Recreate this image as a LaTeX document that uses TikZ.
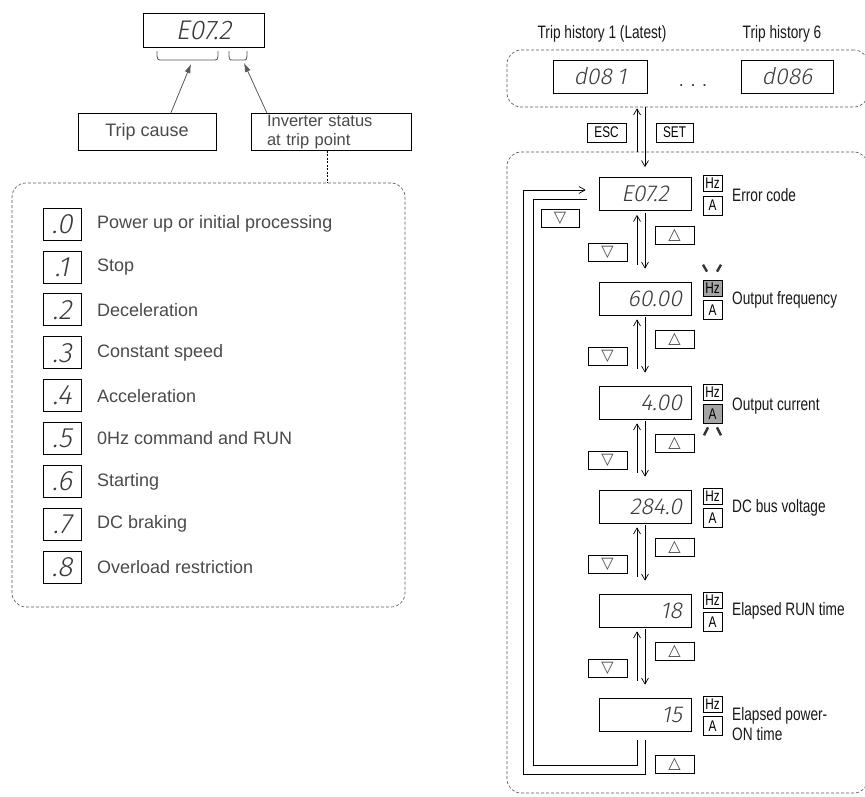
\documentclass[tikz,border=0pt]{standalone}
\usepackage{fontspec}
\setmainfont{Liberation Sans}
\newfontfamily\rfont[FakeStretch=0.76]{Liberation Sans}
\newfontfamily\segfont[FakeSlant=0.2]{Fira Sans Light}
\newfontfamily\symfont{DejaVu Sans}
\usetikzlibrary{arrows.meta,calc}
\definecolor{txtgray}{HTML}{4A4A4A}
\definecolor{seggray}{HTML}{3A3A3A}
\definecolor{litgray}{HTML}{A4A4A4}
\definecolor{dashgray}{HTML}{5A5A5A}
\begin{document}
\begin{tikzpicture}[x=1pt,y=-1pt,
  box/.style={draw=black,line width=0.7pt,inner sep=0pt},
  ltext/.style={font=\fontsize{18}{20}\selectfont,text=txtgray,inner sep=0pt},
  segbig/.style={font=\segfont\fontsize{27}{27}\selectfont,text=seggray},
  seglegend/.style={font=\segfont\fontsize{28}{28}\selectfont,text=seggray},
  segmid/.style={font=\segfont\fontsize{23}{23}\selectfont,text=seggray},
  dashbox/.style={draw=dashgray,dash pattern=on 3pt off 2pt,line width=0.65pt,rounded corners=14pt,inner sep=0pt},
  garrow/.style={draw=gray!70!black,line width=0.8pt,-{Latex[length=9pt,width=6pt]}},
  rline/.style={draw=black,line width=0.7pt},
  rarr/.style={rline,-{Straight Barb[length=6pt,width=7pt]}},
  disp/.style={box,minimum width=92pt,minimum height=33pt,text width=74pt,align=right,font=\segfont\fontsize{23}{23}\selectfont,text=seggray},
  unit/.style={box,minimum width=19pt,font=\rfont\fontsize{15.5}{15.5}\selectfont},
  key/.style={box,minimum width=39pt,minimum height=18pt,font=\symfont\fontsize{16}{16}\selectfont,text=black!70},
  rsmall/.style={box,font=\rfont\fontsize{15.5}{15.5}\selectfont},
  rlabel/.style={font=\rfont\fontsize{18}{20}\selectfont,anchor=west,align=left,text=black!90,inner sep=0pt},
  rtitle/.style={font=\rfont\fontsize{18}{20}\selectfont,text=black!90,inner sep=0pt},
  blink/.style={draw=black!80,line width=2.4pt}
]
\useasboundingbox[fill=white] (0,0) rectangle (865,796);

% ---------------- left part ----------------
\node[box,minimum width=121pt,minimum height=34pt,segbig] (e0) at (203.5,30) {E07.2};
\draw[gray!70!black,line width=0.8pt] (157,51) .. controls (157,60) .. (162,60) -- (213,60) .. controls (218,60) .. (218,51);
\draw[gray!70!black,line width=0.8pt] (229,51) .. controls (229,60) .. (233,60) -- (243,60) .. controls (247,60) .. (247,51);
\coordinate (bl) at (191,64);
\coordinate (br) at (244,63);

\node[box,minimum width=138pt,minimum height=37pt,ltext] (tc) at (147,131.5) {Trip cause};
\node[box,minimum width=160pt,minimum height=37pt,ltext,font=\fontsize{16.5}{18.5}\selectfont,align=left,text width=128pt] (inv) at (331,132) {Inverter status\\at trip point};
\draw[garrow] ([xshift=24pt]tc.north) -- (bl);
\draw[garrow] ([xshift=-64pt]inv.north) -- (br);

\node[dashbox,minimum width=393pt,minimum height=424pt] (lb) at (208.5,395) {};
\coordinate (dx) at (327,0);
\draw[black,line width=0.9pt,dash pattern=on 2pt off 1.5pt] (dx |- inv.south) -- (dx |- lb.north);

\foreach \k/\d/\t in {0/.0/Power up or initial processing,1/.1/Stop,2/.2/Deceleration,3/.3/Constant speed,4/.4/Acceleration,5/.5/0Hz command and RUN,6/.6/Starting,7/.7/DC braking,8/.8/Overload restriction}{
  \node[box,minimum width=38pt,minimum height=32pt,seglegend] (b\k) at (62,{224+42.9*\k}) {\d};
  \node[ltext,anchor=west] (t\k) at (97,{224+42.9*\k}) {\t};
}

% ---------------- right part ----------------
\node[rtitle] (lab1) at (602,34) {Trip history 1 (Latest)};
\node[rtitle] (lab6) at (782,34) {Trip history 6};
\node[dashbox,minimum width=361pt,minimum height=57pt] (th) at (687.5,78.5) {};
\node[box,minimum width=94pt,minimum height=33pt,segmid] (h1) at (600,76.5) {d08\kern5pt 1};
\node[box,minimum width=92pt,minimum height=33pt,segmid] (h6) at (787,76.5) {d086};
\node[font=\fontsize{18}{18}\selectfont,text=black!80] (dots) at (693,86) {. . .};

\node[rsmall,minimum width=39pt,minimum height=19pt] (esc) at (606.5,132.5) {ESC};
\node[rsmall,minimum width=37pt,minimum height=19pt] (set) at (674.5,132.5) {SET};

\node[dashbox,minimum width=361pt,minimum height=641pt] (bb) at (687.5,472.5) {};

\node[disp,align=center] (d1) at (645,194) {E07.2};
\node[disp] (d2) at (645,298.5) {60.00};
\node[disp] (d3) at (645,402.5) {4.00};
\node[disp] (d4) at (645,506.5) {284.0};
\node[disp] (d5) at (645,610.5) {18};
\node[disp] (d6) at (645,714.5) {15};

\foreach \i/\fh/\fa in {1/white/white,2/litgray/white,3/white/litgray,4/white/white,5/white/white,6/white/white}{
  \node[unit,minimum height=16pt,fill=\fh] (hz\i) at ($(d\i.center)+(67.5,-10.5)$) {Hz};
  \node[unit,minimum height=19pt,fill=\fa] (a\i) at ($(d\i.center)+(67.5,11.5)$) {A};
}

\node[rlabel] (l1) at ($(d1.center)+(87,1)$) {Error code};
\node[rlabel] (l2) at ($(d2.center)+(87,1.5)$) {Output frequency};
\node[rlabel] (l3) at ($(d3.center)+(87,3.5)$) {Output current};
\node[rlabel] (l4) at ($(d4.center)+(87,1)$) {DC bus voltage};
\node[rlabel] (l5) at ($(d5.center)+(87,0)$) {Elapsed RUN time};
\node[rlabel] (l6) at ($(d6.center)+(87,10)$) {Elapsed power-\\ON time};

% blink marks
\draw[blink] ($(hz2.north)+(-9.5,-15)$) -- ++(4,7);
\draw[blink] ($(hz2.north)+(8.5,-15)$) -- ++(-4,7);
\draw[blink] ($(a3.south)+(-4.5,3.5)$) -- ++(-4,8);
\draw[blink] ($(a3.south)+(4.5,3.5)$) -- ++(4,8);

% ESC / SET arrows
\coordinate (xu) at (637,0);
\coordinate (xd) at (645,0);
\draw[rarr] (xu |- bb.north) -- ($(xu |- th.south)+(0,1)$);
\draw[rarr] (xd |- th.south) -- ($(xd |- d1.north)+(0,-10)$);

% up/down arrows between displays
\foreach \i/\j in {1/2,2/3,3/4,4/5,5/6}{
  \draw[rarr] ($(xu |- d\j.north)+(0,-17)$) -- ($(xu |- d\i.south)+(0,4)$);
  \draw[rarr] ($(xd |- d\i.south)+(0,2)$) -- ($(xd |- d\j.north)+(0,-13)$);
  \node[key] (up\i) at ($(d\i.center)+(29.5,41)$) {△};
  \node[key] (dn\i) at ($(d\i.center)+(-37.5,58)$) {▽};
}
\node[key] (upb) at ($(d6.center)+(29.5,50)$) {△};
\node[key,minimum width=38pt] (dnt) at (560,218) {▽};

% wrap-around loop
\coordinate (lpI) at (533,765);
\coordinate (lpO) at (523,774);
\draw[rline] ($(d1.west)+(-12,5)$) -| (lpI) -| ($(xu |- d6.south)+(0,9)$);
\draw[rarr] ($(xd |- d6.south)+(0,9)$) |- (lpO) |- ($(d1.west)+(-13,-4)$);
\end{tikzpicture}
\end{document}
